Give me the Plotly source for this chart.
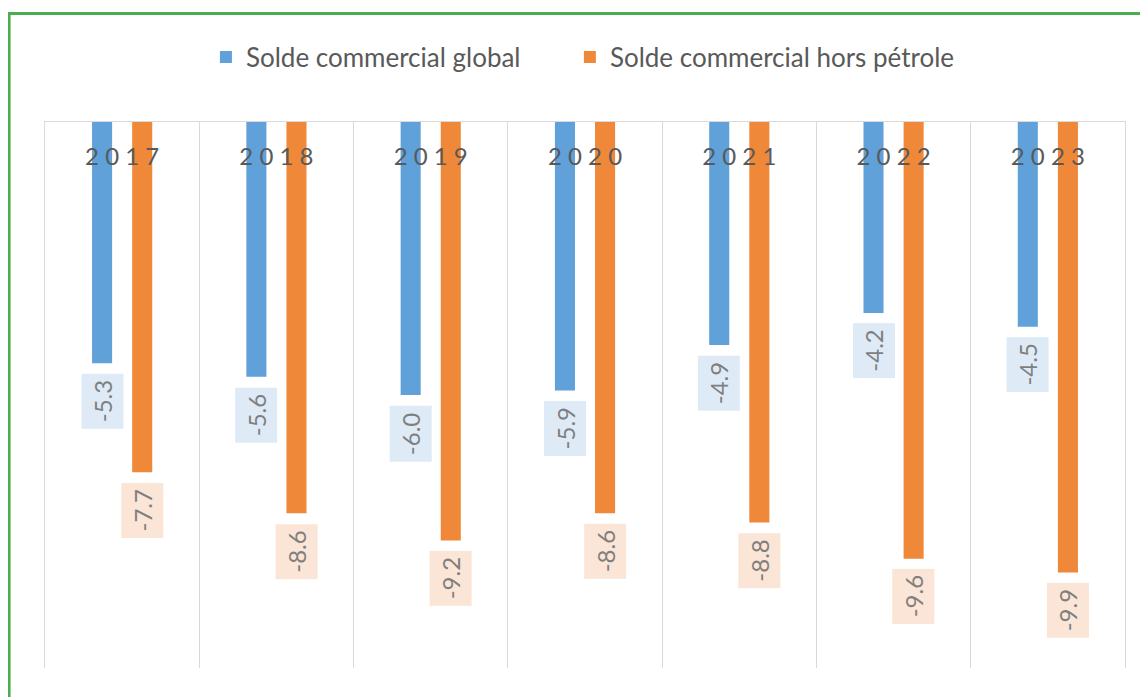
import plotly.graph_objects as go

years = ["2017", "2018", "2019", "2020", "2021", "2022", "2023"]
year_ticktext = [" ".join(y) for y in years]
global_balance = [-5.3, -5.6, -6.0, -5.9, -4.9, -4.2, -4.5]
non_oil_balance = [-7.7, -8.6, -9.2, -8.6, -8.8, -9.6, -9.9]
series_names = ["Solde commercial global", "Solde commercial hors pétrole"]

BLUE = "#5FA1D8"
ORANGE = "#EF8839"
BLUE_BG = "#DEEBF7"
ORANGE_BG = "#FBE5D6"
FONT = "Lato"

fig = go.Figure()
fig.add_trace(go.Bar(x=years, y=global_balance, name=series_names[0], legend="legend",
                     marker=dict(color=BLUE, line=dict(width=0))))
fig.add_trace(go.Bar(x=years, y=non_oil_balance, name=series_names[1], legend="legend2",
                     marker=dict(color=ORANGE, line=dict(width=0))))

annotations = []
for series, shift, bg in ((global_balance, -20, BLUE_BG), (non_oil_balance, 20, ORANGE_BG)):
    for i, v in enumerate(series):
        annotations.append(dict(
            x=i, y=v, xref="x", yref="y", text=f"{v:.1f}", showarrow=False,
            textangle=-90, xshift=shift, yshift=-10, xanchor="center", yanchor="top",
            bgcolor=bg, borderpad=6,
            font=dict(family=FONT, size=24, color="#7F7F7F")))

legend_style = dict(orientation="h", xanchor="left", y=1.119, yanchor="middle",
                    font=dict(family=FONT, size=26, color="#595959"),
                    bgcolor="rgba(0,0,0,0)", borderwidth=0)

fig.update_layout(
    width=1140, height=689,
    margin=dict(l=37, r=23, t=114, b=29),
    paper_bgcolor="white", plot_bgcolor="white",
    barmode="group", bargap=0.48, bargroupgap=0.5,
    font=dict(family=FONT, color="#595959"),
    showlegend=True,
    legend=dict(x=0.149, **legend_style),
    legend2=dict(x=0.486, **legend_style),
    annotations=annotations,
    shapes=[dict(type="rect", xref="paper", yref="paper",
                 x0=-0.0333, x1=1.2, y0=-0.5, y1=1.1987,
                 line=dict(color="#4AAE4F", width=3), fillcolor="rgba(0,0,0,0)",
                 layer="above")],
)
fig.update_xaxes(
    type="category", side="top", tickson="boundaries", automargin=False,
    categoryorder="array", categoryarray=years, range=[-0.5, len(years) - 0.5],
    showgrid=True, gridcolor="#D9D9D9", gridwidth=1,
    showline=True, linecolor="#D9D9D9", linewidth=1,
    ticks="", ticklabelposition="inside", ticklabelstandoff=28,
    labelalias=dict(zip(years, year_ticktext)),
    tickfont=dict(family=FONT, size=24, color="#595959"),
)
fig.update_yaxes(
    range=[-12, 0], showgrid=False, zeroline=False, showticklabels=False, automargin=False,
    showline=True, mirror=True, linecolor="#D9D9D9", linewidth=1, ticks="",
)

fig.write_html("out.html")
